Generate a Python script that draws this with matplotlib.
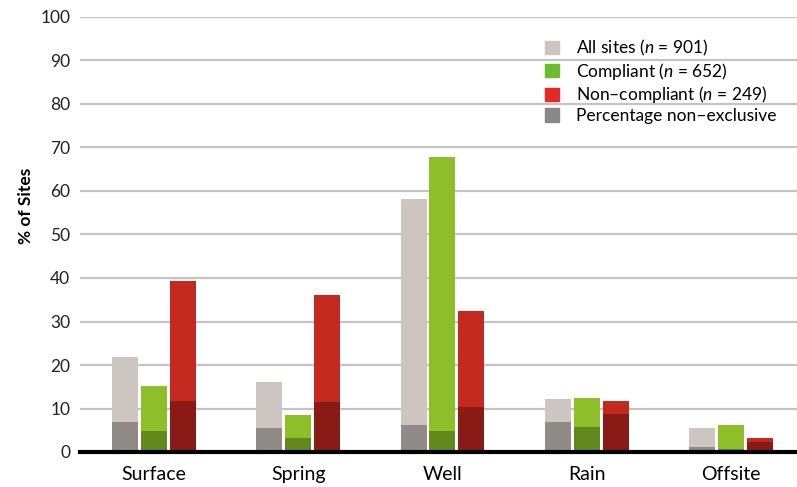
import matplotlib
matplotlib.use("Agg")
import matplotlib.pyplot as plt
from matplotlib.patches import Patch
import numpy as np

plt.rcParams['font.family'] = ['Lato', 'DejaVu Sans']
plt.rcParams['mathtext.fontset'] = 'custom'
plt.rcParams['mathtext.it'] = 'Lato:italic'
plt.rcParams['mathtext.rm'] = 'Lato'

categories = ["Surface", "Spring", "Well", "Rain", "Offsite"]
all_sites = [21.8, 16.2, 58.1, 12.1, 5.6]
all_nonexcl = [6.9, 5.6, 6.3, 6.8, 1.2]
compliant = [15.1, 8.6, 67.9, 12.3, 6.3]
compliant_nonexcl = [4.9, 3.3, 4.9, 5.8, 0.8]
noncompliant = [39.4, 36.2, 32.5, 11.8, 3.3]
noncompliant_nonexcl = [11.8, 11.4, 10.3, 8.8, 2.4]
yticks = [0, 10, 20, 30, 40, 50, 60, 70, 80, 90, 100]
legend_labels = ["All sites ($n$ = 901)", "Compliant ($n$ = 652)",
                 "Non\u2013compliant ($n$ = 249)", "Percentage non\u2013exclusive"]

fig = plt.figure(figsize=(7.97, 4.87), dpi=100)
ax = fig.add_axes([80/797, 35/487, 717/797, 435/487])

x = np.arange(len(categories))
w = 0.18
off = 0.2
series = [
    (all_sites, all_nonexcl, "#CDC5BF", "#908B87", -off),
    (compliant, compliant_nonexcl, "#8EBF28", "#62891E", 0),
    (noncompliant, noncompliant_nonexcl, "#C42920", "#8A1A15", off),
]
for tot, ne, c1, c2, o in series:
    ax.bar(x + o, tot, width=w, color=c1, zorder=3, linewidth=0)
    ax.bar(x + o, ne, width=w, color=c2, zorder=4, linewidth=0)

ax.set_xlim(-0.513, 4.458)
ax.set_ylim(0, 100)
ax.set_yticks(yticks)
ax.set_yticklabels([str(t) for t in yticks], fontsize=12.5)
ax.yaxis.grid(True, color="#C4C4C4", linewidth=1.6, zorder=0)
ax.axhline(0, color="black", linewidth=3, zorder=5, clip_on=False)
ax.tick_params(axis='y', length=0, pad=7, labelcolor="#222222")
ax.tick_params(axis='x', length=0, pad=10)
ax.set_xticks(x)
ax.set_xticklabels(categories, fontsize=14)
for s in ax.spines.values():
    s.set_visible(False)
ax.set_ylabel("% of Sites", fontsize=12.5, fontweight="bold")
ax.yaxis.set_label_coords(-0.064, 0.565)

handles = [Patch(color="#CDC5BF"), Patch(color="#6BBD2E"),
           Patch(color="#E22A26"), Patch(color="#888888")]
leg = ax.legend(handles, legend_labels, loc="upper left",
                bbox_to_anchor=(465/717, 1 - 21/435), frameon=False,
                fontsize=12.5, handlelength=0.8, handleheight=0.8,
                handletextpad=1.0, labelspacing=0.15, borderaxespad=0,
                borderpad=0)

fig.savefig("out.png", dpi=100)
